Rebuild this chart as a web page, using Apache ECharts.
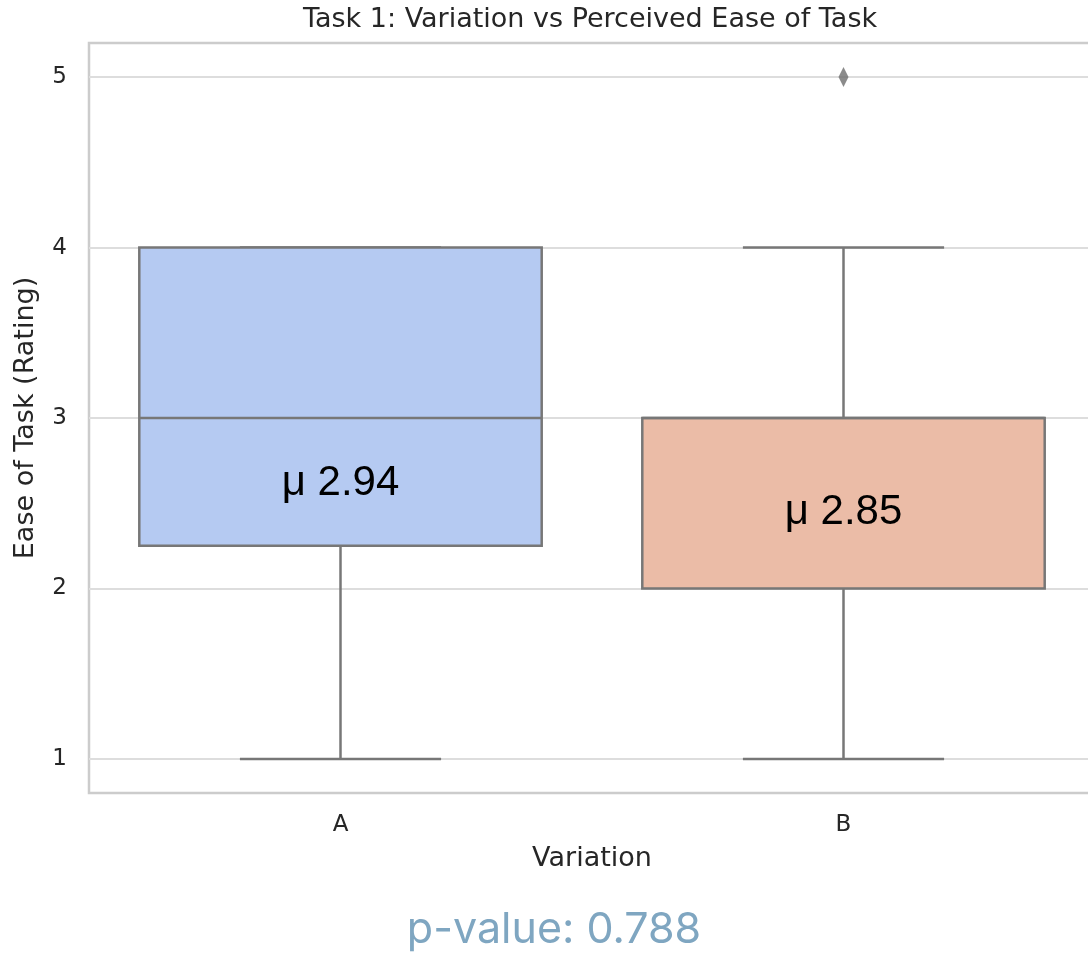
<!DOCTYPE html>
<html>
<head>
<meta charset="utf-8">
<script src="https://cdn.jsdelivr.net/npm/echarts@6/dist/echarts.min.js"></script>
<style>
  html, body { margin: 0; padding: 0; background: #fff; }
  #chart { width: 1088px; height: 955px; }
</style>
</head>
<body>
<div id="chart"></div>
<script>
// Ratings per variation: [min, Q1, median, Q3, max]
const categories = ['A', 'B'];
const boxStats = [
  [1, 2.25, 3, 4, 4],
  [1, 2, 3, 3, 4]
];
const means = [2.94, 2.85];
const outliers = [['B', 5]];
const boxColors = ['#b5caf2', '#ebbca7'];
const yTicks = [1, 2, 3, 4, 5];
const pValue = 0.788;

const lineGray = '#777777';
const textDark = '#262626';
const font = 'DejaVu Sans';

// mean label sits midway between the mean and the lower quartile
const meanLabels = categories.map((c, i) => [i, (means[i] + boxStats[i][1]) / 2, means[i]]);

function renderBox(params, api) {
  const i = api.value(0);
  const vals = [1, 2, 3, 4, 5].map(k => api.value(k));
  const band = api.size([1, 0])[0];
  const half = band * 0.4;
  const cap = half / 2;
  const pt = v => api.coord([i, v]);
  const [pMin, pQ1, pMed, pQ3, pMax] = vals.map(pt);
  const cx = pMin[0];
  const line = (x1, y1, x2, y2) => ({
    type: 'line',
    shape: { x1, y1, x2, y2 },
    style: { stroke: lineGray, lineWidth: 2.5, lineCap: 'butt' }
  });
  return {
    type: 'group',
    children: [
      line(cx, pMin[1], cx, pQ1[1]),
      line(cx, pQ3[1], cx, pMax[1]),
      line(cx - cap, pMin[1], cx + cap, pMin[1]),
      line(cx - cap, pMax[1], cx + cap, pMax[1]),
      {
        type: 'rect',
        shape: { x: cx - half, y: pQ3[1], width: half * 2, height: pQ1[1] - pQ3[1] },
        style: { fill: boxColors[i], stroke: lineGray, lineWidth: 2.5 }
      },
      line(cx - half, pMed[1], cx + half, pMed[1])
    ]
  };
}

function renderMean(params, api) {
  const p = api.coord([api.value(0), api.value(1)]);
  return {
    type: 'text',
    x: p[0],
    y: p[1] - 4,
    style: {
      text: 'μ ' + api.value(2).toFixed(2),
      fontFamily: 'Liberation Sans',
      fontSize: 42,
      fill: '#000000',
      align: 'center',
      verticalAlign: 'middle'
    }
  };
}

const chart = echarts.init(document.getElementById('chart'), null, { renderer: 'canvas' });
chart.setOption({
  animation: false,
  backgroundColor: '#ffffff',
  grid: {
    left: 89, top: 43, width: 1006, height: 750,
    outerBoundsMode: 'none',
    show: true, borderColor: '#cccccc', borderWidth: 2.5, backgroundColor: 'transparent'
  },
  xAxis: {
    type: 'category',
    data: categories,
    name: 'Variation',
    nameLocation: 'middle',
    nameGap: 52,
    nameTextStyle: { fontFamily: font, fontSize: 27, color: textDark },
    axisLine: { show: false },
    axisTick: { show: false },
    axisLabel: { fontFamily: font, fontSize: 23, color: textDark, margin: 21 },
    splitLine: { show: false }
  },
  yAxis: {
    type: 'value',
    min: 0.8, max: 5.2,
    name: 'Ease of Task (Rating)',
    nameLocation: 'middle',
    nameGap: 50,
    nameTextStyle: { fontFamily: font, fontSize: 27, color: textDark },
    axisLine: { show: false },
    axisTick: { show: false, customValues: yTicks },
    axisLabel: {
      fontFamily: font, fontSize: 23, color: textDark, margin: 22,
      customValues: yTicks,
      formatter: v => String(v)
    },
    splitLine: { show: true, lineStyle: { color: '#dddddd', width: 2 } }
  },
  series: [
    {
      type: 'custom',
      renderItem: renderBox,
      data: boxStats.map((d, i) => [i].concat(d)),
      encode: { x: 0, y: [1, 2, 3, 4, 5] },
      z: 3
    },
    {
      type: 'scatter',
      data: outliers,
      symbol: 'diamond',
      symbolSize: [10, 20],
      itemStyle: { color: '#6e6e6e' },
      z: 4
    },
    {
      type: 'custom',
      renderItem: renderMean,
      data: meanLabels,
      encode: { x: 0, y: 1 },
      silent: true,
      z: 5
    }
  ],
  graphic: [
    {
      type: 'text',
      x: 590, y: 20,
      style: {
        text: 'Task 1: Variation vs Perceived Ease of Task',
        fontFamily: font, fontSize: 27, fill: textDark,
        align: 'center', verticalAlign: 'middle'
      }
    },
    {
      type: 'text',
      x: 554, y: 930,
      style: {
        text: 'p-value: ' + pValue.toFixed(3),
        fontFamily: 'Inter',
        fontSize: 43,
        fill: '#7fa6c1',
        align: 'center', verticalAlign: 'middle'
      }
    }
  ]
});
</script>
</body>
</html>
